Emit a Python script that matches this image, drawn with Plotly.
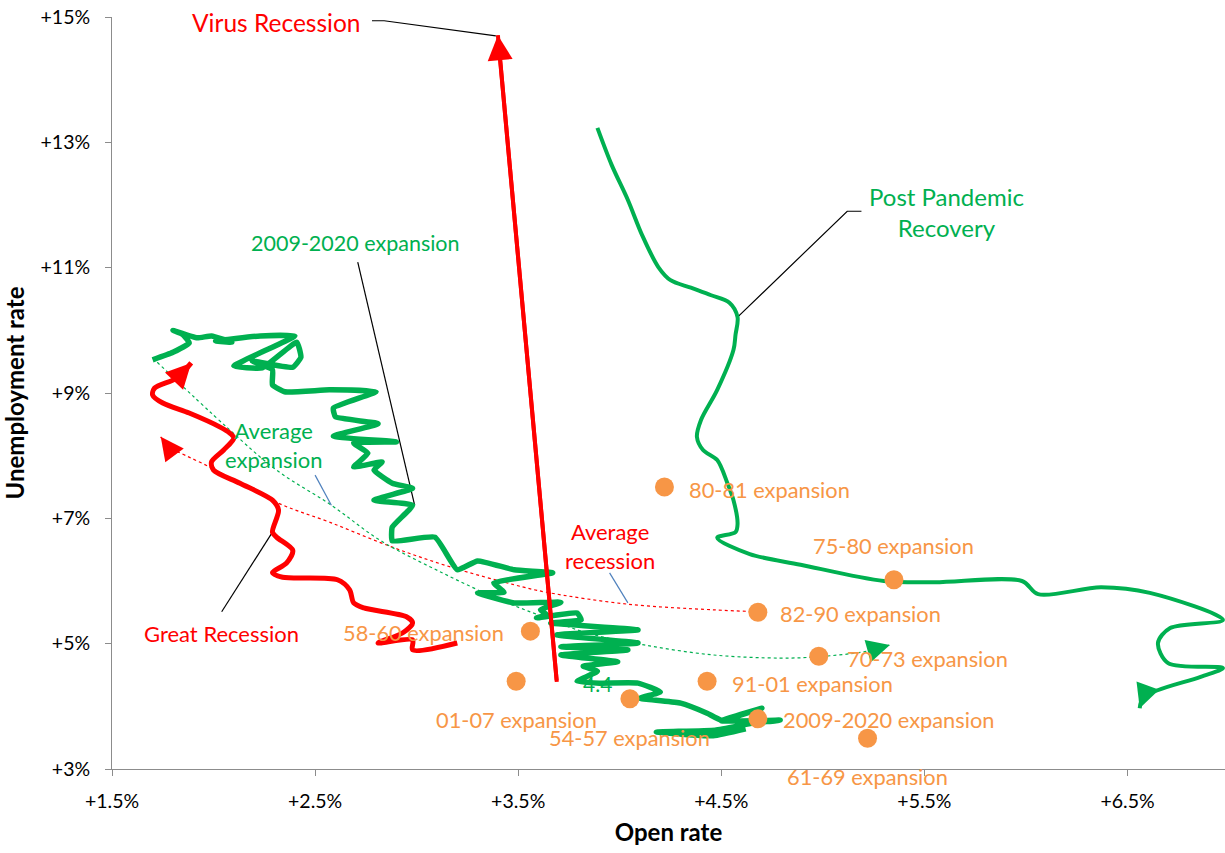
import plotly.graph_objects as go

GREEN = "#00B050"
RED = "#FF0000"
ORANGE = "#F79646"
FONT = "Lato"

# ---------------- data ----------------
# Orange dots: average (open rate, unemployment rate) of each expansion
exp_names = ["80-81 expansion", "75-80 expansion", "82-90 expansion", "58-60 expansion",
             "70-73 expansion", "01-07 expansion", "91-01 expansion", "54-57 expansion",
             "2009-2020 expansion", "61-69 expansion"]
exp_open = [4.22, 5.35, 4.68, 3.56, 4.98, 3.49, 4.43, 4.05, 4.68, 5.22]
exp_unemp = [7.50, 6.02, 5.50, 5.20, 4.80, 4.40, 4.40, 4.12, 3.80, 3.49]

# 2009-2020 expansion path (monthly)
exp0920_open = [1.70, 1.80, 1.88, 1.85, 1.80, 1.92, 1.99, 2.09, 2.01, 2.23, 2.40, 2.10, 2.24, 2.41,
                2.43, 2.39, 2.19, 2.29, 2.29, 2.35, 2.57, 2.80, 2.59, 2.60, 2.81, 2.59, 2.90, 2.69,
                2.76, 2.69, 2.83, 2.79, 2.88, 2.98, 2.79, 2.98, 2.88, 2.88, 3.09, 3.20, 3.30, 3.48,
                3.67, 3.38, 3.43, 3.30, 3.48, 3.71, 3.61, 3.64, 3.59, 3.79, 3.81, 3.66, 4.09, 3.69,
                4.09, 3.71, 4.04, 3.71, 3.99, 3.82, 3.89, 3.79, 3.90, 4.09, 4.20, 4.10, 4.30, 4.43,
                4.50, 4.70, 4.50, 4.79, 4.65, 4.47, 4.18, 4.46, 4.62]
exp0920_unemp = [9.53, 9.65, 9.80, 9.93, 10.00, 9.88, 9.91, 9.81, 9.83, 9.91, 9.91, 9.43, 9.40, 9.81,
                 9.57, 9.41, 9.51, 9.37, 9.13, 9.02, 9.05, 9.02, 8.76, 8.62, 8.51, 8.31, 8.22, 8.20,
                 8.04, 7.82, 7.90, 7.77, 7.56, 7.48, 7.29, 7.21, 6.86, 6.64, 6.70, 6.18, 6.32, 6.18,
                 6.13, 5.97, 5.82, 5.81, 5.65, 5.66, 5.54, 5.46, 5.41, 5.49, 5.38, 5.33, 5.22, 5.14,
                 5.01, 4.95, 4.90, 4.82, 4.71, 4.64, 4.56, 4.40, 4.37, 4.37, 4.23, 4.13, 4.05, 3.89,
                 3.78, 3.97, 3.77, 3.78, 3.73, 3.62, 3.59, 3.53, 3.64]

# Great Recession path
gr_open = [3.20, 2.98, 2.98, 2.81, 2.93, 2.98, 2.95, 2.74, 2.69, 2.67, 2.61, 2.34, 2.29, 2.36,
           2.39, 2.31, 2.29, 2.32, 2.29, 2.13, 2.00, 1.99, 2.05, 2.10, 2.08, 2.03, 1.88, 1.75,
           1.70, 1.71, 1.82, 1.89]
gr_unemp = [5.01, 4.90, 5.06, 5.01, 5.17, 5.33, 5.43, 5.57, 5.65, 5.86, 6.02, 6.06, 6.13, 6.29,
            6.49, 6.70, 6.78, 7.13, 7.29, 7.56, 7.77, 7.90, 8.09, 8.28, 8.36, 8.46, 8.68, 8.84,
            8.97, 9.08, 9.24, 9.48]

# Virus Recession
virus_open = [3.69, 3.40]
virus_unemp = [4.39, 14.71]

# Post Pandemic Recovery
ppr_open = [3.89, 3.96, 4.04, 4.11, 4.19, 4.25, 4.35, 4.45, 4.54, 4.58, 4.57, 4.56, 4.48, 4.40,
            4.38, 4.41, 4.48, 4.53, 4.56, 4.58, 4.57, 4.48, 4.64, 4.89, 5.30, 5.55, 5.98, 6.06,
            6.37, 6.61, 6.97, 6.71, 6.65, 6.70, 6.97, 6.86, 6.58, 6.56]
ppr_unemp = [13.23, 12.64, 12.08, 11.52, 11.01, 10.80, 10.68, 10.56, 10.44, 10.21, 9.93, 9.69,
             9.05, 8.57, 8.30, 8.09, 7.93, 7.56, 7.29, 6.91, 6.78, 6.69, 6.43, 6.26, 6.00, 5.98,
             6.00, 5.79, 5.90, 5.81, 5.38, 5.25, 5.01, 4.69, 4.61, 4.47, 4.15, 3.97]

# Average expansion (dotted green)
avg_exp_open = [1.70, 2.07, 2.31, 2.58, 2.82, 3.12, 3.41, 3.59, 3.84, 4.12, 4.46, 4.79, 4.97, 5.22, 5.33]
avg_exp_unemp = [9.56, 8.44, 7.77, 7.21, 6.65, 6.14, 5.70, 5.47, 5.17, 4.98, 4.82, 4.77, 4.79, 4.88, 4.98]

# Average recession (dotted red), from 82-90 level back to high unemployment
avg_rec_open = [4.68, 4.46, 4.04, 3.64, 3.48, 3.17, 2.88, 2.57, 2.32, 1.98, 1.77, 1.74]
avg_rec_unemp = [5.51, 5.54, 5.63, 5.82, 5.94, 6.22, 6.54, 6.94, 7.24, 7.82, 8.17, 8.30]

x_ticks = [1.5, 2.5, 3.5, 4.5, 5.5, 6.5]
x_ticktext = ["+1.5%", "+2.5%", "+3.5%", "+4.5%", "+5.5%", "+6.5%"]
y_ticks = [3, 5, 7, 9, 11, 13, 15]
y_ticktext = ["+3%", "+5%", "+7%", "+9%", "+11%", "+13%", "+15%"]

# leader lines (open rate, unemployment)
leaders = [
    ([2.78, 2.84, 3.39], [14.94, 14.94, 14.70]),     # Virus Recession
    ([4.58, 5.12, 5.19], [10.21, 11.90, 11.90]),     # Post Pandemic Recovery
    ([2.71, 2.99], [11.09, 7.21]),                   # 2009-2020 expansion
    ([2.04, 2.29], [5.51, 6.78]),                    # Great Recession
]
blue_leaders = [
    ([2.50, 2.58], [7.69, 7.21]),                    # Average expansion
    ([3.95, 4.04], [6.13, 5.65]),                    # Average recession
]

fig = go.Figure()
annotations = []


def add_path(xs, ys, color, width, dash="solid", shape="linear", smoothing=1.0, arrow=False, head=3.4):
    fig.add_trace(go.Scatter(x=xs, y=ys, mode="lines",
                             line=dict(color=color, width=width, dash=dash, shape=shape, smoothing=smoothing),
                             showlegend=False, hoverinfo="skip"))
    if arrow:
        annotations.append(dict(x=xs[-1], y=ys[-1], ax=xs[-2], ay=ys[-2], xref="x", yref="y",
                                axref="x", ayref="y", text="", showarrow=True, arrowhead=2,
                                arrowcolor=color, arrowwidth=width, arrowsize=head / width, standoff=0))


# dotted averages
add_path(avg_rec_open, avg_rec_unemp, RED, 1.2, dash="dot", shape="spline", arrow=True, head=4.6)
add_path(avg_exp_open, avg_exp_unemp, GREEN, 1.2, dash="dot", shape="spline", arrow=True, head=4.6)

# leader lines
for lx, ly in leaders:
    add_path(lx, ly, "black", 1.2)
for lx, ly in blue_leaders:
    add_path(lx, ly, "#4F81BD", 1.2)

# main series
add_path(exp0920_open, exp0920_unemp, GREEN, 5.5, shape="spline", smoothing=0.4)
add_path(gr_open, gr_unemp, RED, 5, shape="spline", smoothing=0.8, arrow=True, head=5.0)
add_path(ppr_open, ppr_unemp, GREEN, 4, shape="spline", smoothing=0.9, arrow=True, head=4.8)
add_path(virus_open, virus_unemp, RED, 4, arrow=True, head=5.0)

# orange dots
fig.add_trace(go.Scatter(x=exp_open, y=exp_unemp, mode="markers",
                         marker=dict(color=ORANGE, size=19, line=dict(width=0)),
                         showlegend=False, hoverinfo="skip"))

# orange labels
label_pos = {
    "80-81 expansion": ("left", 23, -2),
    "75-80 expansion": ("center", 0, 34),
    "82-90 expansion": ("left", 20, -1),
    "58-60 expansion": ("right", -24, -1),
    "70-73 expansion": ("left", 26, -2),
    "01-07 expansion": ("center", 0, -38),
    "91-01 expansion": ("left", 23, -2),
    "54-57 expansion": ("center", 0, -39),
    "2009-2020 expansion": ("left", 23, -1),
    "61-69 expansion": ("center", 0, -38),
}
for name, xo, yu in zip(exp_names, exp_open, exp_unemp):
    anchor, xs, ys = label_pos[name]
    annotations.append(dict(x=xo, y=yu, text=name, showarrow=False, xanchor=anchor, yanchor="middle",
                            xshift=xs, yshift=ys, font=dict(family=FONT, size=21.8, color=ORANGE)))

# series labels
series_labels = [
    ("Virus Recession", 2.31, 14.92, RED, 24.5),
    ("Post Pandemic<br>Recovery", 5.61, 11.89, GREEN, 24),
    ("2009-2020 expansion", 2.70, 11.39, GREEN, 21.5),
    ("Average<br>expansion", 2.30, 8.17, GREEN, 22),
    ("Average<br>recession", 3.95, 6.56, RED, 22),
    ("Great Recession", 2.04, 5.17, RED, 22),
    ("4.4", 3.89, 4.36, GREEN, 21),
]
for txt, xo, yu, col, fs in series_labels:
    annotations.append(dict(x=xo, y=yu, text=txt, showarrow=False, xanchor="center", yanchor="middle",
                            font=dict(family=FONT, size=fs, color=col)))

axis_common = dict(showgrid=False, zeroline=False, showline=True, linecolor="#8C8C8C", linewidth=1,
                   ticks="outside", ticklen=6, tickcolor="#8C8C8C",
                   tickfont=dict(family=FONT, size=19.5, color="black"))

fig.update_layout(
    width=1225, height=853,
    margin=dict(l=112, r=0, t=17, b=84),
    paper_bgcolor="white", plot_bgcolor="white",
    font=dict(family=FONT),
    xaxis=dict(range=[1.5, 6.98], tickvals=x_ticks, ticktext=x_ticktext,
               title=dict(text="<b>Open rate</b>", font=dict(family=FONT, size=24, color="black"), standoff=12),
               ticklabelstandoff=9, **axis_common),
    yaxis=dict(range=[3, 15], tickvals=y_ticks, ticktext=y_ticktext,
               title=dict(text="<b>Unemployment rate</b>", font=dict(family=FONT, size=24, color="black"), standoff=12),
               ticklabelstandoff=11, **axis_common),
    annotations=annotations,
)

fig.write_html("out.html", config={"displayModeBar": False},
               post_script="document.body.style.margin='0';")
